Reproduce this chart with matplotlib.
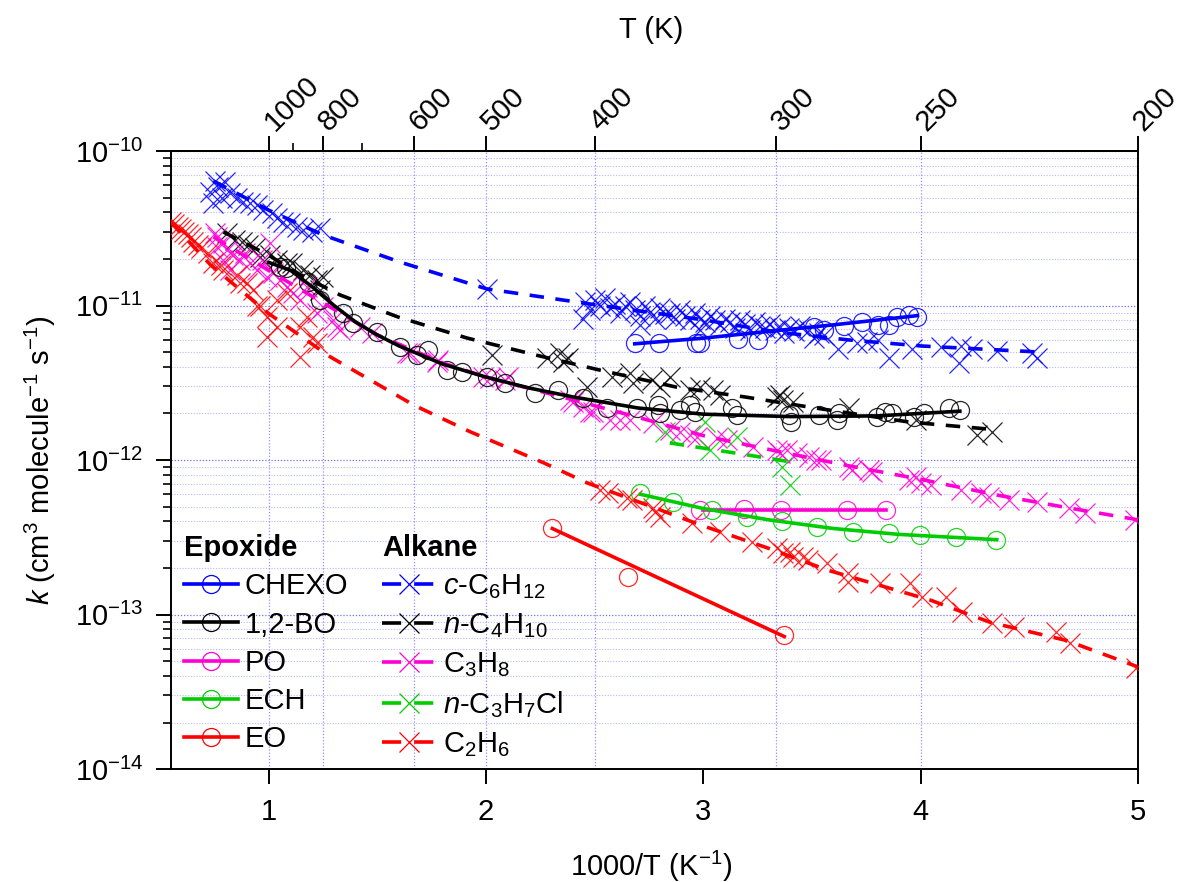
import numpy as np
import matplotlib
matplotlib.use('Agg')
import matplotlib.pyplot as plt
from matplotlib.lines import Line2D
from matplotlib.ticker import FixedLocator, NullFormatter, FuncFormatter, NullLocator

plt.rcParams['font.family'] = ['Liberation Sans', 'DejaVu Sans']
plt.rcParams['mathtext.fontset'] = 'custom'
plt.rcParams['mathtext.rm'] = 'Liberation Sans'
plt.rcParams['mathtext.it'] = 'Liberation Sans:italic'
plt.rcParams['mathtext.bf'] = 'Liberation Sans:bold'
plt.rcParams['axes.unicode_minus'] = False

# ---------------- data (x = 1000/T in K^-1, k in cm3 molecule-1 s-1) ----------------
# c-C6H12 (alkane, blue crosses)
cc6_x = [0.731, 0.768, 0.800, 0.754, 0.786, 0.745, 0.823, 0.855, 0.883, 0.915, 0.947, 0.975,
         1.016, 1.039, 1.067, 1.099, 1.131, 1.158, 1.200, 1.237, 2.004,
         2.454, 2.477, 2.500, 2.523, 2.546, 2.569, 2.592, 2.615, 2.638, 2.661, 2.684, 2.707,
         2.730, 2.753, 2.776, 2.799, 2.822, 2.845, 2.868, 2.891, 2.914, 2.937, 2.960, 2.983,
         3.006, 3.029, 3.052, 3.075, 3.098, 3.121, 3.144, 3.167, 3.190, 3.213, 3.236, 3.259,
         3.282, 3.305, 3.328, 3.351, 3.373, 3.396, 3.419, 3.443, 3.488, 3.534, 2.445, 2.707, 2.983,
         3.511, 3.557, 3.617, 3.705, 3.751, 3.802, 3.856, 3.962, 4.095, 4.178, 4.187, 4.237,
         4.352, 4.513, 4.536]
cc6_k = [5.4e-11, 5.85e-11, 6.3e-11, 6.4e-11, 5.0e-11, 4.6e-11, 5.35e-11, 5.0e-11, 4.7e-11,
         4.6e-11, 4.45e-11, 4.15e-11, 3.97e-11, 3.68e-11, 3.47e-11, 3.42e-11, 3.22e-11, 3.08e-11,
         2.99e-11, 3.18e-11, 1.27e-11,
         1.05e-11, 9.3e-12, 1.08e-11, 1.0e-11, 1.12e-11, 9.6e-12, 1.03e-11, 9.0e-12, 1.0e-11,
         1.05e-11, 9.3e-12, 8.6e-12, 9.9e-12, 9.1e-12, 8.2e-12, 9.6e-12, 8.8e-12, 9.0e-12, 8.2e-12,
         9.3e-12, 8.5e-12, 8.0e-12, 8.9e-12, 8.2e-12, 7.8e-12, 8.5e-12, 8.0e-12, 7.5e-12, 8.2e-12,
         7.8e-12, 7.2e-12, 8.0e-12, 7.6e-12, 6.95e-12, 7.8e-12, 7.4e-12, 7.1e-12, 7.6e-12, 6.95e-12,
         7.3e-12, 6.65e-12, 7.2e-12, 6.85e-12, 7.4e-12, 6.95e-12, 6.65e-12, 8.2e-12, 7.5e-12, 6.95e-12,
         6.2e-12, 6.45e-12, 5.25e-12, 5.7e-12, 5.8e-12, 5.95e-12, 4.6e-12, 5.25e-12, 5.35e-12,
         4.25e-12, 5.5e-12, 5.25e-12, 5.1e-12, 4.95e-12, 4.55e-12]
cc6_fit_x = [0.745, 0.998, 1.25, 1.604, 2.004, 2.505, 3.006, 3.341, 3.672, 4.003, 4.545]
cc6_fit_k = [6.4e-11, 4.15e-11, 2.86e-11, 1.91e-11, 1.28e-11, 1.01e-11, 8.05e-12, 6.73e-12,
             5.98e-12, 5.47e-12, 5.0e-12]

# CHEXO (epoxide, blue circles)
chexo_x = [2.684, 2.794, 2.965, 2.983, 3.158, 3.250, 3.507, 3.553, 3.645, 3.728, 3.802, 3.856,
           3.893, 3.948, 3.985]
chexo_k = [5.72e-12, 5.72e-12, 5.72e-12, 5.72e-12, 6.07e-12, 5.98e-12, 7.26e-12, 6.94e-12,
           7.37e-12, 7.83e-12, 7.48e-12, 7.48e-12, 8.42e-12, 8.7e-12, 8.42e-12]
chexo_fit_x = [2.684, 3.0, 3.3, 3.6, 3.985]
chexo_fit_k = [5.65e-12, 6.15e-12, 6.8e-12, 7.5e-12, 8.6e-12]

# 1,2-BO (epoxide, black circles)
bo_x = [1.053, 1.080, 1.182, 1.237, 1.342, 1.388, 1.498, 1.604, 1.682, 1.733, 1.820, 1.889,
        2.004, 2.087, 2.225, 2.331, 2.445, 2.555, 2.693, 2.790, 2.799, 2.891, 2.937, 2.960,
        3.130, 3.153, 3.396, 3.405, 3.534, 3.616, 3.626, 3.800, 3.837, 3.869, 3.970, 4.016,
        4.131, 4.181]
bo_k = [1.78e-11, 1.75e-11, 1.42e-11, 1.08e-11, 8.94e-12, 7.7e-12, 6.74e-12, 5.39e-12,
        4.78e-12, 5.15e-12, 3.82e-12, 3.71e-12, 3.44e-12, 3.15e-12, 2.71e-12, 2.84e-12,
        2.52e-12, 2.17e-12, 2.17e-12, 2.27e-12, 2.01e-12, 2.11e-12, 2.27e-12, 2.06e-12,
        2.17e-12, 1.95e-12, 1.95e-12, 1.76e-12, 1.95e-12, 1.82e-12, 2.0e-12, 1.91e-12,
        2.04e-12, 2.01e-12, 1.91e-12, 2.01e-12, 2.17e-12, 2.11e-12]
bo_fit_x = [1.0, 1.1, 1.2, 1.3, 1.4, 1.5, 1.6, 1.8, 2.0, 2.2, 2.4, 2.7, 3.0, 3.4, 3.8, 4.18]
bo_fit_k = [1.9e-11, 1.69e-11, 1.32e-11, 1.0e-11, 7.8e-12, 6.44e-12, 5.47e-12, 4.18e-12,
            3.44e-12, 2.92e-12, 2.56e-12, 2.17e-12, 1.98e-12, 1.91e-12, 1.93e-12, 2.07e-12]

# n-C4H10 (alkane, black crosses)
nc4_x = [0.809, 0.846, 0.878, 0.906, 0.938, 0.961, 1.007, 1.039, 1.085, 1.108, 1.158, 1.190,
         1.222, 1.250, 1.237, 2.027, 2.280, 2.340, 2.353, 2.376, 2.463, 2.578, 2.661, 2.675,
         2.762, 2.799, 2.845, 2.937, 2.983, 3.043, 3.075, 3.337, 3.351, 3.364, 3.410, 3.672,
         3.980, 4.260, 4.330]
nc4_k = [2.94e-11, 2.65e-11, 2.58e-11, 2.46e-11, 2.36e-11, 2.06e-11, 2.13e-11, 1.97e-11,
         1.88e-11, 1.88e-11, 1.69e-11, 1.58e-11, 1.46e-11, 1.53e-11, 1.26e-11, 4.78e-12,
         4.57e-12, 4.93e-12, 4.31e-12, 4.6e-12, 2.96e-12, 3.44e-12, 3.66e-12, 3.15e-12,
         3.3e-12, 2.96e-12, 3.44e-12, 2.84e-12, 2.96e-12, 2.84e-12, 2.63e-12, 2.55e-12,
         2.63e-12, 2.45e-12, 2.38e-12, 2.17e-12, 1.82e-12, 1.45e-12, 1.52e-12]
nc4_fit_x = [0.791, 0.998, 1.145, 1.328, 1.595, 1.912, 2.248, 2.523, 2.877, 3.19, 3.488,
             3.948, 4.302]
nc4_fit_k = [2.99e-11, 2.12e-11, 1.58e-11, 1.17e-11, 8.42e-12, 6.16e-12, 4.71e-12, 3.82e-12,
             2.96e-12, 2.56e-12, 2.2e-12, 1.76e-12, 1.59e-12]

# PO (epoxide, magenta circles)
po_x = [2.983, 3.185, 3.355, 3.663, 3.838]
po_k = [4.75e-13, 4.85e-13, 4.75e-13, 4.75e-13, 4.75e-13]
po_fit_x = [3.0, 3.84]
po_fit_k = [4.75e-13, 4.75e-13]

# C3H8 (alkane, magenta crosses)
c3_x = [0.763, 0.791, 0.809, 0.837, 0.869, 0.892, 0.915, 0.947, 0.970, 0.993, 1.021, 1.053,
        1.085, 1.112, 1.145, 1.177, 1.223, 1.250, 1.296, 1.328, 1.420, 1.475, 0.791, 0.823,
        1.007, 0.754, 0.763, 1.314, 1.636, 1.650, 1.774, 1.779, 1.986, 2.018, 2.087, 2.100,
        2.385, 2.399, 2.445, 2.477, 2.491, 2.569, 2.615, 2.661, 2.767, 2.845, 2.891, 2.937,
        2.969, 3.061, 3.107, 3.227, 3.337, 3.351, 3.383, 3.429, 3.488, 3.520, 3.543, 3.672,
        3.686, 3.764, 3.778, 3.948, 3.980, 4.003, 4.049, 4.187, 4.279, 4.316, 4.408, 4.536,
        4.683, 4.757, 4.987]
c3_k = [2.78e-11, 2.54e-11, 2.29e-11, 2.12e-11, 1.97e-11, 2.19e-11, 1.88e-11, 1.69e-11,
        1.97e-11, 1.53e-11, 1.62e-11, 1.46e-11, 1.32e-11, 1.2e-11, 1.08e-11, 1.32e-11,
        8.94e-12, 9.8e-12, 8.06e-12, 6.94e-12, 7.26e-12, 6.64e-12, 1.97e-11, 1.69e-11,
        2.54e-11, 2.94e-11, 2.39e-11, 7.26e-12, 4.93e-12, 4.93e-12, 4.31e-12, 4.43e-12,
        3.44e-12, 3.39e-12, 3.3e-12, 3.44e-12, 2.45e-12, 2.38e-12, 2.2e-12, 2.04e-12,
        2.04e-12, 1.82e-12, 1.82e-12, 1.82e-12, 1.74e-12, 1.56e-12, 1.52e-12, 1.45e-12,
        1.41e-12, 1.39e-12, 1.35e-12, 1.21e-12, 1.16e-12, 1.11e-12, 1.16e-12, 1.11e-12,
        1.05e-12, 1.0e-12, 1.0e-12, 9.0e-13, 8.6e-13, 8.6e-13, 8.4e-13, 7.4e-13, 7.8e-13,
        7.1e-13, 6.9e-13, 6.4e-13, 6.1e-13, 5.8e-13, 5.5e-13, 5.35e-13, 4.9e-13, 4.55e-13,
        4.1e-13]
c3_fit_x = [0.745, 0.998, 1.25, 1.5, 1.8, 2.0, 2.4, 2.71, 3.006, 3.34, 3.672, 4.0, 4.36,
            4.68, 5.0]
c3_fit_k = [2.78e-11, 1.69e-11, 1.04e-11, 6.44e-12, 4.25e-12, 3.44e-12, 2.45e-12, 1.87e-12,
            1.43e-12, 1.14e-12, 9.15e-13, 7.5e-13, 5.9e-13, 4.9e-13, 4.1e-13]

# ECH (epoxide, green circles)
ech_x = [2.710, 2.862, 3.040, 3.200, 3.363, 3.524, 3.690, 3.855, 3.998, 4.163, 4.347]
ech_k = [6.1e-13, 5.35e-13, 4.75e-13, 4.3e-13, 4.0e-13, 3.7e-13, 3.4e-13, 3.37e-13,
         3.27e-13, 3.17e-13, 3.04e-13]
ech_fit_x = [2.71, 3.0, 3.3, 3.6, 3.9, 4.35]
ech_fit_k = [6.0e-13, 4.85e-13, 4.1e-13, 3.6e-13, 3.3e-13, 3.05e-13]

# n-C3H7Cl (alkane, green crosses)
c3cl_x = [2.825, 3.009, 3.032, 3.156, 3.363, 3.400]
c3cl_k = [1.52e-12, 1.76e-12, 1.16e-12, 1.41e-12, 9.0e-13, 6.9e-13]
c3cl_fit_x = [2.845, 3.2, 3.386]
c3cl_fit_k = [1.29e-12, 1.08e-12, 9.8e-13]

# C2H6 (alkane, red crosses)
c2_x = [0.548, 0.562, 0.580, 0.594, 0.608, 0.626, 0.640, 0.653, 0.672, 0.686, 0.718, 0.745,
        0.778, 0.791, 0.855, 0.869, 0.901, 0.929, 0.947, 0.961, 0.993, 0.993, 1.039, 1.039,
        1.085, 1.145, 1.145, 1.177, 1.205, 1.223,
        2.526, 2.563, 2.646, 2.673, 2.770, 2.779, 2.802, 2.949, 3.078, 3.225, 3.340, 3.368,
        3.400, 3.414, 3.460, 3.483, 3.570, 3.667, 3.667, 3.813, 3.952, 4.007, 4.117, 4.191,
        4.329, 4.430, 4.623, 4.687, 4.990]
c2_k = [3.47e-11, 3.37e-11, 3.22e-11, 3.12e-11, 2.99e-11, 2.9e-11, 2.78e-11, 2.58e-11,
        2.46e-11, 2.36e-11, 2.19e-11, 1.88e-11, 1.83e-11, 1.69e-11, 1.58e-11, 1.4e-11,
        1.4e-11, 1.26e-11, 9.9e-12, 9.9e-12, 8.4e-12, 6.25e-12, 1.08e-11, 7.26e-12, 1.2e-11,
        7.26e-12, 4.64e-12, 8.4e-12, 6.25e-12, 5.72e-12,
        6.4e-13, 6.1e-13, 5.67e-13, 5.5e-13, 4.9e-13, 4.6e-13, 4.28e-13, 3.91e-13, 3.42e-13,
        2.95e-13, 2.7e-13, 2.5e-13, 2.55e-13, 2.36e-13, 2.36e-13, 2.25e-13, 2.15e-13,
        1.86e-13, 1.62e-13, 1.6e-13, 1.6e-13, 1.3e-13, 1.3e-13, 1.04e-13, 8.8e-14, 8.3e-14,
        7.7e-14, 6.5e-14, 4.5e-14]
c2_fit_x = [0.548, 0.732, 0.998, 1.284, 1.666, 1.928, 2.264, 2.466, 2.802, 2.986, 3.294,
            3.57, 4.044, 4.32, 4.669, 4.996]
c2_fit_k = [3.47e-11, 1.83e-11, 8.9e-12, 4.64e-12, 2.27e-12, 1.52e-12, 9.6e-13, 7.1e-13,
            4.75e-13, 3.8e-13, 2.7e-13, 1.94e-13, 1.24e-13, 8.9e-14, 6.8e-14, 4.6e-14]

# EO (epoxide, red circles)
eo_x = [2.305, 2.655, 3.372]
eo_k = [3.63e-13, 1.75e-13, 7.4e-14]
eo_fit_x = [2.305, 3.372]
eo_fit_k = [3.6e-13, 7.2e-14]

# axis ticks
x_ticks = [1, 2, 3, 4, 5]
y_decades = [-14, -13, -12, -11, -10]
T_major = [1000, 800, 600, 500, 400, 300, 250, 200]
T_minor = [900, 700]

# ---------------- figure ----------------
BLUE = '#0000ff'
BLACK = '#000000'
MAG = '#ff00d4'
GREEN = '#00cc00'
RED = '#ff0000'
FS = 21

fig = plt.figure(figsize=(11.82, 8.82), dpi=100)
ax = fig.add_axes([0.1447, 0.1281, 0.8181, 0.7007])
ax.set_yscale('log')
ax.set_xlim(0.55, 5.0)
ax.set_ylim(1e-14, 1e-10)

DASH = (0, (4, 3.2))
LEG_DASH = (0, (5.3, 3.6))
LW = 2.6
MS_X = 15
MS_O = 13
MEW = 0.9

alk = [
    (cc6_x, cc6_k, cc6_fit_x, cc6_fit_k, BLUE, '$c$-C$_6$H$_{12}$'),
    (nc4_x, nc4_k, nc4_fit_x, nc4_fit_k, BLACK, '$n$-C$_4$H$_{10}$'),
    (c3_x, c3_k, c3_fit_x, c3_fit_k, MAG, 'C$_3$H$_8$'),
    (c3cl_x, c3cl_k, c3cl_fit_x, c3cl_fit_k, GREEN, '$n$-C$_3$H$_7$Cl'),
    (c2_x, c2_k, c2_fit_x, c2_fit_k, RED, 'C$_2$H$_6$'),
]
epo = [
    (chexo_x, chexo_k, chexo_fit_x, chexo_fit_k, BLUE, 'CHEXO'),
    (bo_x, bo_k, bo_fit_x, bo_fit_k, BLACK, '1,2-BO'),
    (po_x, po_k, po_fit_x, po_fit_k, MAG, 'PO'),
    (ech_x, ech_k, ech_fit_x, ech_fit_k, GREEN, 'ECH'),
    (eo_x, eo_k, eo_fit_x, eo_fit_k, RED, 'EO'),
]

for xs, ks, fx, fk, c, lab in alk:
    ax.plot(xs, ks, ls='none', marker='x', ms=MS_X, mew=MEW, mec=c, alpha=0.85, zorder=3)
    ax.plot(fx, fk, color=c, lw=LW, ls=DASH, zorder=4)
for xs, ks, fx, fk, c, lab in epo:
    ax.plot(xs, ks, ls='none', marker='o', ms=MS_O, mew=MEW, mec=c, mfc='none', alpha=0.85, zorder=3)
    ax.plot(fx, fk, color=c, lw=LW, ls='-', zorder=4)

# ticks and grid
major_y = [10.0 ** d for d in y_decades]
minor_y = [m * 10.0 ** d for d in y_decades[:-1] for m in range(2, 10)]
ax.yaxis.set_major_locator(FixedLocator(major_y))
ax.yaxis.set_minor_locator(FixedLocator(minor_y))
ax.yaxis.set_minor_formatter(NullFormatter())
ax.yaxis.set_major_formatter(FuncFormatter(lambda v, p: '10$^{%d}$' % int(round(np.log10(v)))))
GRID_C = '#6060ff'
ax.grid(axis='y', which='major', color=GRID_C, ls=(0, (1, 1.5)), lw=0.9, alpha=0.9, zorder=0)
ax.grid(axis='y', which='minor', color=GRID_C, ls=(0, (1, 1.5)), lw=0.8, alpha=0.45, zorder=0)
for T in T_major[:-1]:
    ax.axvline(1000.0 / T, color=GRID_C, ls=(0, (1, 1.5)), lw=0.9, alpha=0.7, zorder=0)
ax.set_axisbelow(True)

ax.xaxis.set_major_locator(FixedLocator(x_ticks))
ax.xaxis.set_minor_locator(NullLocator())
ax.tick_params(axis='both', which='major', direction='out', length=11, width=1.4, labelsize=FS)
ax.tick_params(axis='x', which='major', pad=10)
ax.tick_params(axis='y', which='minor', direction='out', length=6, width=1.2)
ax.tick_params(axis='y', which='major', pad=9)
for s in ax.spines.values():
    s.set_linewidth(1.4)


def inv(v):
    v = np.asarray(v, dtype=float)
    with np.errstate(divide='ignore'):
        return 1000.0 / v


sec = ax.secondary_xaxis('top', functions=(inv, inv))
sec.xaxis.set_major_locator(FixedLocator(T_major))
sec.xaxis.set_minor_locator(FixedLocator(T_minor))
sec.set_xticklabels([str(t) for t in T_major], rotation=45, ha='left', va='center',
                    rotation_mode='anchor', fontsize=FS)
sec.tick_params(axis='x', which='major', direction='out', length=11, width=1.4, pad=7)
sec.tick_params(axis='x', which='minor', direction='out', length=6, width=1.2)
sec.spines['top'].set_linewidth(1.4)

fig.text(0.551, 1 - 30 / 882, 'T (K)', ha='center', va='center', fontsize=FS)
fig.text(0.551, 1 - 866 / 882, '1000/T (K$^{-1}$)', ha='center', va='center', fontsize=FS)
fig.text(40 / 1182, 0.478, '$k$ (cm$^3$ molecule$^{-1}$ s$^{-1}$)', ha='center', va='center',
         rotation=90, fontsize=FS)

# legends
ep_h = [Line2D([], [], color=c, lw=LW, marker='o', ms=MS_O, mfc='none', mec=c, mew=MEW)
        for _, _, _, _, c, _ in epo]
al_h = [Line2D([], [], color=c, lw=LW, ls=LEG_DASH, marker='x', ms=MS_X, mec=c, mew=MEW)
        for _, _, _, _, c, _ in alk]
common = dict(loc='upper left', frameon=False, fontsize=FS, alignment='left',
              handlelength=1.85, handletextpad=0.25, labelspacing=0.35, borderaxespad=0,
              borderpad=0, title_fontproperties={'weight': 'bold', 'size': FS})
leg1 = ax.legend(ep_h, [e[5] for e in epo], title='Epoxide', bbox_to_anchor=(0.013, 0.380), **common)
ax.add_artist(leg1)
leg2 = ax.legend(al_h, [a[5] for a in alk], title='Alkane', bbox_to_anchor=(0.218, 0.380), **common)

fig.savefig('out.png', dpi=100)
